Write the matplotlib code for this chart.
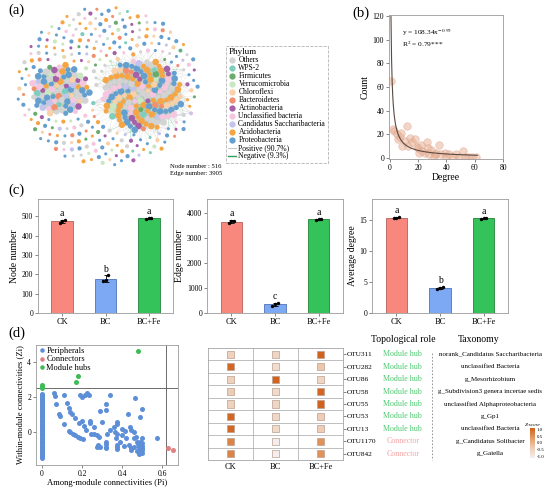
import numpy as np
import matplotlib
matplotlib.use('Agg')
from matplotlib import pyplot as plt
from matplotlib.collections import LineCollection
from matplotlib.colors import LinearSegmentedColormap, Normalize
from matplotlib.cm import ScalarMappable
from matplotlib.lines import Line2D

plt.rcParams['font.family'] = ['Liberation Serif', 'DejaVu Serif']
plt.rcParams['mathtext.fontset'] = 'stix'

# ---------------- data ----------------
# (a) network
phyla = ['Others', 'WPS-2', 'Firmicutes', 'Verrucomicrobia', 'Chloroflexi',
         'Bacteroidetes', 'Actinobacteria', 'Unclassified bacteria',
         'Candidatus Saccharibacteria', 'Acidobacteria', 'Proteobacteria']
phylum_colors = ['#D3D3D3', '#7FCDBF', '#6AAB6E', '#C9E8C2', '#F9D0A8',
                 '#F09070', '#A560A8', '#F6C6E0', '#C4C3EE', '#F6A545', '#649FD0']
module_left = [14, 3, 1, 3, 5, 3, 7, 10, 6, 6, 22]
module_right = [22, 3, 2, 4, 12, 5, 8, 18, 4, 42, 30]
module_rest = [34, 9, 13, 18, 23, 17, 20, 22, 10, 42, 78]
node_number = 516
edge_number = 3905
positive_share = 90.7
negative_share = 9.3

# (b) degree distribution
degree = [1, 2, 3, 5, 6, 7, 8, 9, 11, 12, 13, 14, 16, 18, 19, 20, 21, 22, 23, 25,
          26, 27, 28, 29, 31, 32, 33, 35, 36, 39, 40, 42, 45, 47, 49, 52, 53, 55, 58, 61]
count = [65, 24, 23, 20, 16, 18, 21, 10, 14, 27, 10, 17, 13, 16, 9, 8, 4, 11, 6, 4,
         13, 8, 3, 7, 1, 3, 4, 11, 3, 4, 1, 3, 1, 3, 1, 6, 1, 1, 1, 1]
fit_a, fit_b, fit_r2 = 108.34, -0.95, 0.79

# (c) network properties, three replicates per treatment
groups = ['CK', 'BC', 'BC+Fe']
node_reps = [[465, 478, 482], [165, 171, 198], [488, 490, 492]]
edge_reps = [[3600, 3680, 3700], [300, 350, 400], [3740, 3760, 3780]]
avgdeg_reps = [[15.3, 15.4, 15.5], [3.8, 4.0, 4.2], [15.2, 15.3, 15.4]]
node_letters = ['a', 'b', 'a']
edge_letters = ['a', 'c', 'a']
avgdeg_letters = ['a', 'b', 'a']

# (d) Zi-Pi
zero_col_y = [-1.48, -1.40, -1.33, -1.25, -1.18, -1.10, -1.02, -0.95, -0.88, -0.80,
              -0.72, -0.65, -0.58, -0.50, -0.43, -0.35, -0.28, -0.20, -0.12, -0.05,
              0.03, 0.10, 0.18, 0.25, 0.33, 0.40, 0.48, 0.55, 0.63, 0.70, 0.78, 0.85,
              0.93, 1.00, 1.08, 1.15, 1.23, 1.30, 1.38, 1.45, 1.53, 1.60, 1.68, 1.75,
              1.83, 1.90, 1.98, 2.05, 2.12, 2.20]
peri_pi = [0.058, 0.067, 0.11, 0.072, 0.125, 0.133, 0.142, 0.15, 0.083, 0.092, 0.108,
           0.167, 0.183, 0.2, 0.19, 0.2, 0.217, 0.225, 0.233, 0.208, 0.222, 0.238,
           0.242, 0.258, 0.133, 0.142, 0.155, 0.167, 0.178, 0.19, 0.205, 0.245, 0.258,
           0.275, 0.283, 0.278, 0.288, 0.322, 0.322, 0.30, 0.342, 0.342, 0.325, 0.322,
           0.322, 0.322, 0.322, 0.358, 0.367, 0.375, 0.375, 0.375, 0.372, 0.375, 0.375,
           0.375, 0.40, 0.417, 0.422, 0.43, 0.438, 0.445, 0.433, 0.445, 0.445, 0.458,
           0.467, 0.475, 0.478, 0.483, 0.483, 0.492, 0.492, 0.5, 0.5, 0.5, 0.5, 0.5,
           0.5, 0.5, 0.472, 0.458, 0.462, 0.575, 0.412, 0.40, 0.275, 0.292, 0.392,
           0.483, 0.475]
peri_zi = [2.23, 2.05, 2.14, 1.58, 1.67, 1.40, 1.15, 1.06, 1.06, 0.93, 0.47, 0.78,
           0.54, 0.61, 2.14, 2.0, 2.1, 2.23, 2.1, 0.37, 0.13, 0.61, 0.50, 0.28, 0.06,
           -0.02, -0.09, -0.19, -0.28, -0.37, -0.43, -0.09, -0.09, -0.19, -0.28, -0.74,
           1.21, 1.58, 1.25, 0.56, 2.1, 0.13, -0.09, -0.56, -0.69, -0.84, -0.93, 0.28,
           0.0, 0.43, 0.56, -0.09, -0.37, -0.74, -0.87, -0.99, 0.19, 0.06, -0.37, 1.02,
           0.28, 0.13, -0.74, -0.93, -1.06, 0.0, 1.95, -0.56, -0.69, -0.84, -1.02,
           -0.56, 0.84, 1.30, -0.37, -0.65, -0.80, -0.93, -1.06, -1.21, -0.28, -0.84,
           -0.37, -0.33, -0.80, -0.19, -0.87, -0.84, -0.56, -1.25, -1.12]
hub_pi = [0.0, 0.0, 0.0, 0.17, 0.18, 0.48]
hub_zi = [2.55, 2.62, 2.68, 2.85, 3.2, 4.65]
conn_pi = [0.63, 0.655]
conn_zi = [-0.95, -1.05]
pi_threshold, zi_threshold = 0.62, 2.5

# (d) key OTUs
otus = ['OTU311', 'OTU282', 'OTU86', 'OTU58', 'OTU55', 'OTU53', 'OTU13', 'OTU1170', 'OTU842']
roles = ['Module hub'] * 7 + ['Connector'] * 2
taxa = ['norank_Candidatus Saccharibacteria', 'unclassified Bacteria', 'g_Mesorhizobium',
        'g_Subdivision3 genera incertae sedis', 'unclassified Alphaproteobacteria',
        'g_Gp1', 'unclassified Bacteria', 'g_Candidatus Solibacter', 'g_Gaiella']
zscore = np.array([
    [-0.5, -0.6, 1.15],
    [1.1, -0.75, -0.3],
    [-0.5, 1.15, -0.6],
    [-0.4, -0.7, 1.1],
    [-0.5, -0.6, 1.15],
    [1.1, -0.65, -0.4],
    [1.1, -0.7, -0.4],
    [0.7, -1.15, 0.5],
    [0.7, -1.15, 0.5],
])

# ---------------- figure ----------------
W, H = 550, 488
fig = plt.figure(figsize=(5.5, 4.88), dpi=100)


def box(l, t, r, b):
    return [l / W, 1 - b / H, (r - l) / W, (b - t) / H]


def style(ax):
    for s in ax.spines.values():
        s.set_color('#9A9A9A')
        s.set_linewidth(0.6)
    ax.tick_params(labelsize=5.5, length=2, width=0.5, pad=1.5, color='#555555')


for lab, (x, y) in zip(['(a)', '(b)', '(c)', '(d)'],
                       [(8, 10), (352, 13), (8, 190), (8, 333)]):
    fig.text(x / W, 1 - y / H, lab, fontsize=10.5, va='center', ha='left')

# ---- (a) network ----
ax_a = fig.add_axes(box(10, 0, 205, 172))
ax_a.set_xlim(-1.05, 1.05)
ax_a.set_ylim(-1.06, 1.06)
ax_a.axis('off')

golden = np.pi * (3 - np.sqrt(5))


def sunflower(n):
    i = np.arange(n) + 0.5
    r = np.sqrt(i / n)
    return r * np.cos(i * golden), r * np.sin(i * golden)


def labels_mixed(counts):
    lab = np.repeat(np.arange(len(counts)), counts)
    n = len(lab)
    return lab[(np.arange(n) * 7) % n]


centers = [(-0.51, -0.05, 0.32), (0.37, -0.11, 0.44)]
mod_xy, mod_lab = [], []
for (cx, cy, rad), counts in zip(centers, [module_left, module_right]):
    n = sum(counts)
    ux, uy = sunflower(n)
    mod_xy.append(np.column_stack([cx + rad * ux, cy + rad * uy]))
    mod_lab.append(labels_mixed(counts))

n_rest = sum(module_rest)
ux, uy = sunflower(430)
keep = np.ones(len(ux), bool)
for cx, cy, rad in centers:
    keep &= np.hypot(ux - cx, uy - cy) > rad + 0.06
px_, py_ = ux[keep] * 0.98, uy[keep] * 0.98
sel = np.linspace(0, len(px_) - 1, n_rest).round().astype(int)
rest_xy = np.column_stack([px_[sel], py_[sel]])
rest_lab = labels_mixed(module_rest)

# edges
segs = []
for xy, n_e in zip(mod_xy, [1100, 2600]):
    d = np.hypot(xy[:, None, 0] - xy[None, :, 0], xy[:, None, 1] - xy[None, :, 1])
    iu = np.triu_indices(len(xy), 1)
    order = np.argsort(d[iu])[:n_e]
    for k in order:
        segs.append([xy[iu[0][k]], xy[iu[1][k]]])
n_cross = edge_number - len(segs)
xy = mod_xy[1]
d = np.hypot(xy[:, None, 0] - rest_xy[None, :, 0], xy[:, None, 1] - rest_xy[None, :, 1])
flat = np.argsort(d.ravel())[:n_cross]
for k in flat:
    i, j = np.unravel_index(k, d.shape)
    segs.append([xy[i], rest_xy[j]])
segs = np.array(segs)
neg = (np.arange(len(segs)) % 43) < round(43 * negative_share / 100)
ax_a.add_collection(LineCollection(segs[~neg], colors='#C4C4C4', linewidths=0.3, alpha=0.45, zorder=1))
ax_a.add_collection(LineCollection(segs[neg], colors='#7FCB9C', linewidths=0.35, alpha=0.7, zorder=1))

cols = np.array(phylum_colors)
sizes_rest = np.where(np.arange(n_rest) % 3 == 0, 9, 5)
ax_a.scatter(rest_xy[:, 0], rest_xy[:, 1], s=sizes_rest, c=cols[rest_lab], lw=0, zorder=2)
for xy, lab in zip(mod_xy, mod_lab):
    sz = np.where(np.arange(len(xy)) % 2 == 0, 22, 13)
    ax_a.scatter(xy[:, 0], xy[:, 1], s=sz, c=cols[lab], lw=0, zorder=3)

fig.text(170 / W, 1 - 166 / H, 'Node number : %d' % node_number, fontsize=4.8, va='center')
fig.text(170 / W, 1 - 173 / H, 'Edge number: %d' % edge_number, fontsize=4.8, va='center')

handles = [Line2D([], [], ls='', marker='o', ms=4.5, mfc=c, mec='none') for c in phylum_colors]
handles += [Line2D([], [], color='#C8C8C8', lw=0.8), Line2D([], [], color='#2E9E5B', lw=1.0)]
labels = phyla + ['Positive (%.1f%%)' % positive_share, 'Negative (%.1f%%)' % negative_share]
leg = fig.legend(handles, labels, loc='upper left', bbox_to_anchor=(222 / W, 1 - 42 / H),
                 title='Phylum', fontsize=5.5, title_fontsize=6.5, frameon=True, fancybox=False,
                 handlelength=1.0, handletextpad=0.3, labelspacing=0.0, borderpad=0.35,
                 alignment='left')
leg.get_frame().set_linestyle('--')
leg.get_frame().set_edgecolor('#A0A0A0')
leg.get_frame().set_linewidth(0.6)

# ---- (b) degree distribution ----
ax_b = fig.add_axes(box(389, 15, 503, 159))
style(ax_b)
ax_b.scatter(degree, count, s=30, color='#E8B49A', alpha=0.55, edgecolor='#D99A7E', lw=0.4, zorder=2)
xf = np.linspace(0.9, 62, 300)
ax_b.plot(xf, fit_a * xf ** fit_b, color='#5B4A42', lw=0.8, zorder=3)
ax_b.set_xlim(-0.5, 80)
ax_b.set_ylim(-1, 121)
ax_b.set_xticks([0, 20, 40, 60, 80])
ax_b.set_yticks([0, 20, 40, 60, 80, 100, 120])
ax_b.set_xlabel('Degree', fontsize=7, labelpad=1)
ax_b.set_ylabel('Count', fontsize=7, labelpad=2)
ax_b.text(0.11, 0.88, 'y = %.2fx$^{%.2f}$' % (fit_a, fit_b), transform=ax_b.transAxes, fontsize=5.3, va='center')
ax_b.text(0.11, 0.795, 'R$^2$ = %.2f***' % fit_r2, transform=ax_b.transAxes, fontsize=5.3, va='center')

# ---- (c) bar charts ----
bar_colors = ['#F8877E', '#7DA8F4', '#34C35A']
bar_edges = ['#B5605A', '#4F73B5', '#23843C']
specs = [
    (box(38, 199, 173, 313), node_reps, node_letters, 'Node number', (0, 590), [0, 100, 200, 300, 400, 500]),
    (box(207, 199, 343, 313), edge_reps, edge_letters, 'Edge number', (0, 4560), [0, 1000, 2000, 3000, 4000]),
    (box(372, 199, 508, 313), avgdeg_reps, avgdeg_letters, 'Average degree', (0, 18.4), [0, 5, 10, 15]),
]
for rect, reps, letters, ylab, ylim, yt in specs:
    ax = fig.add_axes(rect)
    style(ax)
    reps = np.array(reps, float)
    means = reps.mean(axis=1)
    sds = reps.std(axis=1, ddof=1)
    xs = np.arange(len(groups))
    ax.bar(xs, means, width=0.5, color=bar_colors, edgecolor=bar_edges, lw=0.6, zorder=1)
    ax.errorbar(xs, means, yerr=sds, fmt='none', ecolor='black', elinewidth=0.6, capsize=1.8, capthick=0.6, zorder=3)
    for i in range(len(groups)):
        ax.scatter(xs[i] + np.array([-0.06, 0.0, 0.06]), reps[i], s=6, color='black', zorder=4, lw=0)
        ax.text(xs[i], means[i] + sds[i] + 0.015 * ylim[1], letters[i], ha='center', va='bottom', fontsize=7)
    ax.set_xlim(-0.56, 2.56)
    ax.set_ylim(*ylim)
    ax.set_yticks(yt)
    ax.set_xticks(xs)
    ax.set_xticklabels(groups, fontsize=6)
    ax.set_ylabel(ylab, fontsize=7, labelpad=2)

# ---- (d) Zi-Pi scatter ----
ax_d = fig.add_axes(box(36, 345, 178, 465))
style(ax_d)
ax_d.scatter(np.r_[np.zeros(len(zero_col_y)), peri_pi], np.r_[zero_col_y, peri_zi],
             s=13, color='#5D8FD8', lw=0, label='Peripherals', zorder=2)
ax_d.scatter(conn_pi, conn_zi, s=13, color='#E08080', lw=0, label='Connectors', zorder=2)
ax_d.scatter(hub_pi, hub_zi, s=13, color='#3DBB55', lw=0, label='Module hubs', zorder=2)
ax_d.axvline(pi_threshold, color='#555555', lw=0.6, zorder=1)
ax_d.axhline(zi_threshold, color='#555555', lw=0.6, zorder=1)
ax_d.set_xlim(-0.03, 0.68)
ax_d.set_ylim(-1.9, 5.0)
ax_d.set_xticks([0, 0.2, 0.4, 0.6])
ax_d.set_xticklabels(['0', '0.2', '0.4', '0.6'])
ax_d.set_yticks([0, 2, 4])
ax_d.set_xlabel('Among-module connectivities (Pi)', fontsize=6.2, labelpad=1)
ax_d.set_ylabel('Within-module connectivities (Zi)', fontsize=6.2, labelpad=2)
ax_d.legend(loc='upper left', fontsize=6, frameon=False, handletextpad=0.05, borderaxespad=0.1,
            labelspacing=0.05, borderpad=0.1, handlelength=1.0, markerscale=0.9)

# ---- (d) heatmap and table ----
cmap = LinearSegmentedColormap.from_list('z', ['#F3EFEE', '#EFCDB4', '#E39A63', '#D0601A'])
norm = Normalize(-1.2, 1.2)
ax_h = fig.add_axes(box(208, 348, 343, 460))
for s in ax_h.spines.values():
    s.set_color('#A5A5A5')
    s.set_linewidth(0.6)
rr, cc = np.meshgrid(np.arange(len(otus)), np.arange(len(groups)), indexing='ij')
ax_h.scatter(cc.ravel(), rr.ravel(), c=zscore.ravel(), cmap=cmap, norm=norm, marker='s', s=26,
             edgecolors='#B9A092', linewidths=0.5, zorder=3)
for i in range(1, len(otus)):
    ax_h.axhline(i - 0.5, color='#A5A5A5', lw=0.5)
for j in range(1, len(groups)):
    ax_h.axvline(j - 0.5, color='#A5A5A5', lw=0.5)
ax_h.set_xlim(-0.5, 2.5)
ax_h.set_ylim(len(otus) - 0.5, -0.5)
ax_h.set_xticks(range(len(groups)))
ax_h.set_xticklabels(groups, fontsize=6)
ax_h.yaxis.tick_right()
ax_h.set_yticks(range(len(otus)))
ax_h.set_yticklabels(otus, fontsize=5.3)
ax_h.tick_params(axis='x', length=0, pad=2)
ax_h.tick_params(axis='y', length=2, width=0.5, pad=1, color='#555555')

role_colors = {'Module hub': '#4DC870', 'Connector': '#F2A5A5'}
for i in range(len(otus)):
    ax_h.text(3.83, i, roles[i], color=role_colors[roles[i]], ha='center', va='center', fontsize=5.8, clip_on=False)
    ax_h.text(5.77, i, taxa[i], ha='center', va='center', fontsize=5.0, clip_on=False)
ax_h.plot([4.48, 4.48], [-0.1, 8.5], ls=(0, (2, 2)), color='#888888', lw=0.6, clip_on=False)
ax_h.text(3.83, -1.2, 'Topological role', ha='center', va='center', fontsize=7, clip_on=False)
ax_h.text(5.52, -1.2, 'Taxonomy', ha='center', va='center', fontsize=7, clip_on=False)

cax = fig.add_axes(box(530, 428, 535, 458))
cb = fig.colorbar(ScalarMappable(norm=Normalize(-1.1, 1.1), cmap=cmap), cax=cax, ticks=[-1, -0.5, 0, 0.5, 1])
cb.outline.set_visible(False)
cb.ax.set_yticklabels(['-1.0', '-0.5', '0.0', '0.5', '1.0'])
cb.ax.tick_params(labelsize=3.5, length=0, pad=1)
cax.set_title('Z-score', fontsize=3.8, style='italic', pad=1.5)

fig.savefig('out.png', dpi=100)
